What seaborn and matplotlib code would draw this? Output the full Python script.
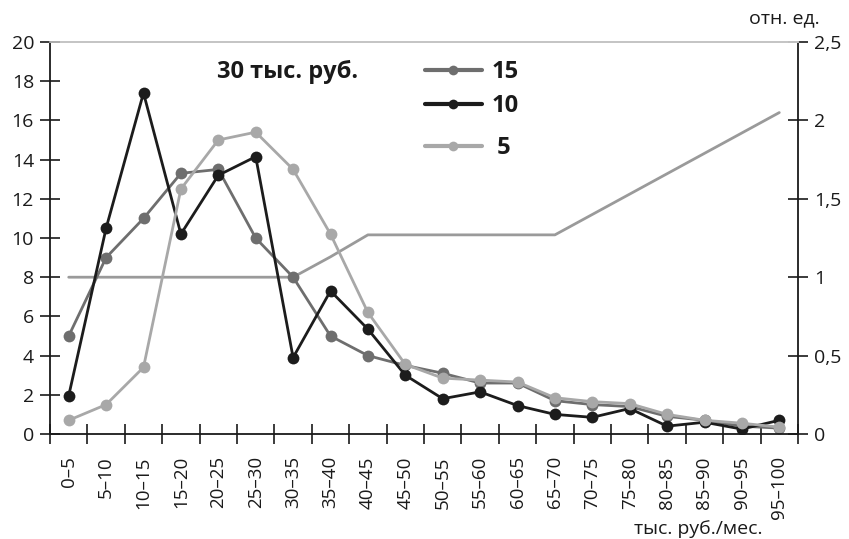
import matplotlib
matplotlib.use("Agg")
import matplotlib.pyplot as plt
import seaborn as sns
import pandas as pd
from matplotlib.lines import Line2D
from matplotlib.ticker import FixedLocator, FuncFormatter

categories = ['0–5', '5–10', '10–15', '15–20', '20–25', '25–30', '30–35', '35–40',
              '40–45', '45–50', '50–55', '55–60', '60–65', '65–70', '70–75', '75–80',
              '80–85', '85–90', '90–95', '95–100']
s15 = [5.0, 9.0, 11.0, 13.3, 13.5, 10.0, 8.0, 5.0, 4.0, 3.5, 3.1, 2.6, 2.6, 1.7, 1.5, 1.4, 0.9, 0.7, 0.4, 0.3]
s10 = [1.95, 10.5, 17.4, 10.2, 13.2, 14.15, 3.9, 7.3, 5.35, 3.0, 1.8, 2.15, 1.45, 1.0, 0.85, 1.3, 0.4, 0.6, 0.25, 0.7]
s5 = [0.7, 1.5, 3.4, 12.5, 15.0, 15.4, 13.5, 10.2, 6.2, 3.55, 2.85, 2.75, 2.65, 1.85, 1.65, 1.55, 1.0, 0.7, 0.55, 0.35]
rel = [1.0, 1.0, 1.0, 1.0, 1.0, 1.0, 1.0, 1.13, 1.27, 1.27, 1.27, 1.27, 1.27, 1.27, 1.40, 1.53, 1.66, 1.79, 1.92, 2.05]
series_names = ['15', '10', '5']
series_colors = ['#6e6e6e', '#1c1c1c', '#a8a8a8']
left_ticks = [0, 2, 4, 6, 8, 10, 12, 14, 16, 18, 20]
right_ticks = [0, 0.5, 1, 1.5, 2, 2.5]

sns.set_theme(style="white")
plt.rcParams['font.family'] = ['Open Sans', 'DejaVu Sans']

pos = list(range(len(categories)))
frames = []
for name, vals in zip(series_names, [s15, s10, s5]):
    frames.append(pd.DataFrame({'x': pos, 'y': vals, 'series': name}))
df = pd.concat(frames, ignore_index=True)
df_rel = pd.DataFrame({'x': pos, 'y': rel})

fig = plt.figure(figsize=(8.49, 5.39), dpi=100)
ax = fig.add_axes([50/849, 1-434/539, 748/849, 392/539])
ax2 = ax.twinx()

sns.lineplot(data=df_rel, x='x', y='y', ax=ax2, color='#9a9a9a', linewidth=2.0, legend=False)
ax.set_zorder(ax2.get_zorder() + 1)
ax.patch.set_visible(False)

for name, col in zip(series_names, series_colors):
    sub = df[df['series'] == name]
    sns.lineplot(data=sub, x='x', y='y', ax=ax, color=col, linewidth=2.0,
                 marker='o', markersize=8.5, markeredgewidth=0, legend=False)

ax.set_xlim(-0.5, len(categories) - 0.5)
ax.set_ylim(0, 20)
ax2.set_ylim(0, 2.5)

ax.xaxis.set_major_locator(FixedLocator(pos))
ax.set_xticklabels(categories, rotation=90, fontsize=13.5, color='#1a1a1a')
ax.xaxis.set_minor_locator(FixedLocator([p - 0.5 for p in range(len(categories) + 1)]))
ax.tick_params(axis='x', which='major', length=0, pad=16)
ax.tick_params(axis='x', which='minor', direction='inout', length=14, width=1.2, color='#1a1a1a', bottom=True)

ax.set_yticks(left_ticks)
ax.set_yticklabels([str(t) for t in left_ticks], fontsize=14, color='#1a1a1a')
ax.tick_params(axis='y', direction='inout', length=15, width=1.2, color='#1a1a1a', left=True, pad=4)

ax2.set_yticks(right_ticks)
ax2.yaxis.set_major_formatter(FuncFormatter(lambda v, p: ('%g' % v).replace('.', ',')))
ax2.tick_params(axis='y', direction='inout', length=15, width=1.2, color='#1a1a1a', right=True, labelsize=14, labelcolor='#1a1a1a', pad=4)

ax.set_xlabel('')
ax.set_ylabel('')
ax2.set_xlabel('')
ax2.set_ylabel('')

for a in (ax, ax2):
    for s in ['left', 'right', 'bottom']:
        a.spines[s].set_color('#1a1a1a')
        a.spines[s].set_linewidth(1.3)
    a.spines['top'].set_color('#c4c4c4')
    a.spines['top'].set_linewidth(1.2)
ax.spines['right'].set_visible(False)
ax2.spines['left'].set_visible(False)
ax2.spines['bottom'].set_visible(False)

ax.text((217-50)/748, (434-72)/392, '30 тыс. руб.', transform=ax.transAxes, fontsize=17,
        fontweight='bold', color='#1a1a1a', va='center', ha='left')

def mk(c):
    return Line2D([], [], color=c, linewidth=3, marker='o', markersize=7, markeredgewidth=0)

leg_kw = dict(loc='upper left', frameon=False, handlelength=2.4, handletextpad=0.4,
              borderpad=0, borderaxespad=0, prop={'weight': 'bold', 'size': 17})
leg1 = ax.legend([mk(series_colors[0]), mk(series_colors[1])], series_names[:2],
                 bbox_to_anchor=((425-50)/748, 0.953), labelspacing=0.41, **leg_kw)
ax.add_artist(leg1)
leg2 = ax.legend([mk(series_colors[2])], [' ' + series_names[2]],
                 bbox_to_anchor=((425-50)/748, 0.76), **leg_kw)
for lg in (leg1, leg2):
    for t in lg.get_texts():
        t.set_color('#1a1a1a')

fig.text(820/849, 1-18/539, 'отн. ед.', fontsize=14, ha='right', va='center', color='#1a1a1a')
fig.text(763/849, 1-529/539, 'тыс. руб./мес.', fontsize=14, ha='right', va='center', color='#1a1a1a')

fig.savefig('out.png', dpi=100)
